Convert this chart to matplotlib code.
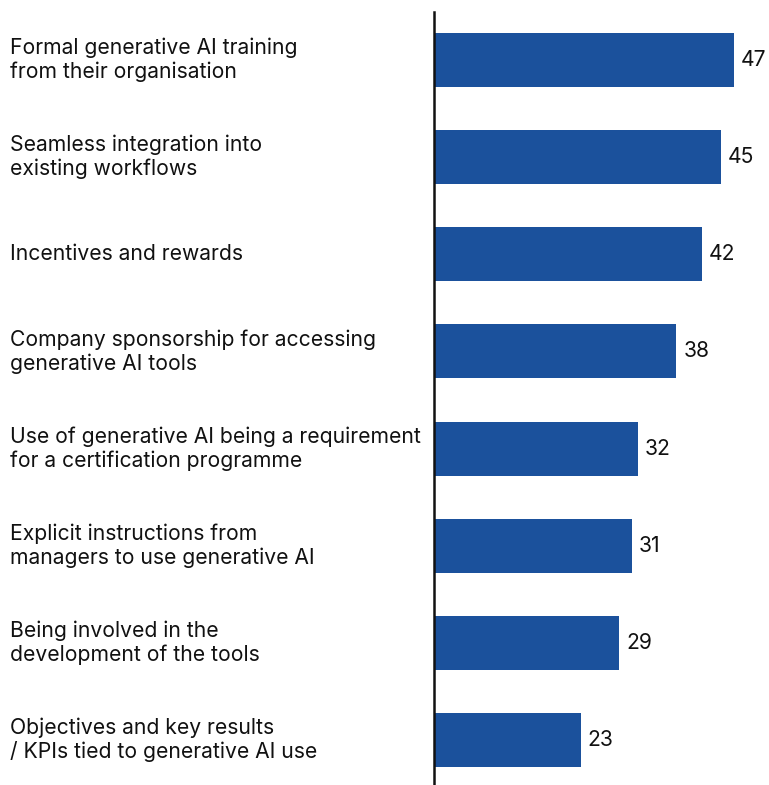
import matplotlib.pyplot as plt
import matplotlib.transforms as mtransforms

plt.rcParams['font.family'] = ['Inter', 'DejaVu Sans']

labels = [
    "Formal generative AI training\nfrom their organisation",
    "Seamless integration into\nexisting workflows",
    "Incentives and rewards",
    "Company sponsorship for accessing\ngenerative AI tools",
    "Use of generative AI being a requirement\nfor a certification programme",
    "Explicit instructions from\nmanagers to use generative AI",
    "Being involved in the\ndevelopment of the tools",
    "Objectives and key results\n/ KPIs tied to generative AI use",
]
values = [47, 45, 42, 38, 32, 31, 29, 23]

bar_color = "#1b519c"

W, H = 769, 785
fig = plt.figure(figsize=(W / 100, H / 100), dpi=100)
ax = fig.add_axes([434 / W, 0, (W - 434) / W, (H - 12) / H])

pos = list(range(len(values)))
ax.barh(pos, values, height=0.555, color=bar_color, zorder=2)

ax.set_xlim(0, 52.5)
ax.set_ylim(7.463, -0.494)

for s in ["top", "right", "bottom"]:
    ax.spines[s].set_visible(False)
ax.spines["left"].set_linewidth(1.8)
ax.spines["left"].set_color("#111111")
ax.set_xticks([])
ax.set_yticks([])

# category names on the left, value labels after the bars
trans = mtransforms.blended_transform_factory(fig.transFigure, ax.transData)
for p, lab, v in zip(pos, labels, values):
    ax.text(10 / W, p, lab, transform=trans, ha="left", va="center",
            fontsize=15.2, color="#111111", linespacing=1.2)
    ax.annotate(str(v), (v, p), xytext=(5, 0), textcoords="offset points",
                ha="left", va="center", fontsize=15.2, color="#111111")

fig.savefig("out.png", dpi=100)
